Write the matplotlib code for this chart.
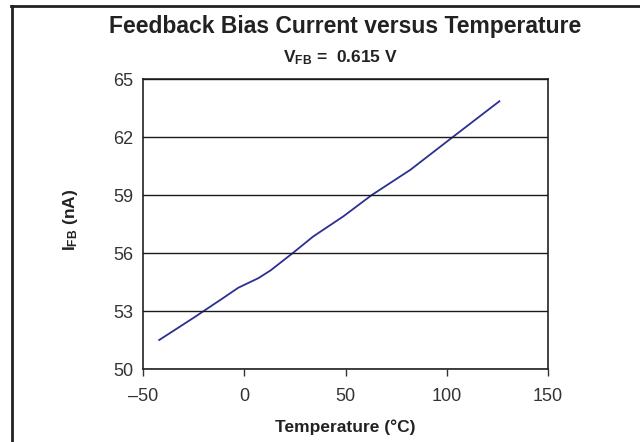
import matplotlib
matplotlib.use("Agg")
import matplotlib.pyplot as plt
from matplotlib.lines import Line2D

plt.rcParams['font.family'] = ['Liberation Sans', 'DejaVu Sans']
plt.rcParams['mathtext.fontset'] = 'custom'
plt.rcParams['mathtext.rm'] = 'Liberation Sans'
plt.rcParams['mathtext.bf'] = 'Liberation Sans:bold'
plt.rcParams['mathtext.it'] = 'Liberation Sans:italic'

temperature = [-42, -25, -10, -3, 7, 13, 24, 34, 49, 63, 82, 103, 126]
ifb_na = [51.5, 52.65, 53.7, 54.2, 54.7, 55.1, 56.0, 56.85, 57.9, 59.0, 60.3, 62.0, 63.85]
x_ticks = [-50, 0, 50, 100, 150]
x_tick_labels = ['\u201350', '0', '50', '100', '150']
y_ticks = [50, 53, 56, 59, 62, 65]

fig = plt.figure(figsize=(6.4, 4.42), dpi=100)
ax = fig.add_axes([143/640, 1 - 369/442, (548-143)/640, (369-79)/442])

ax.plot(temperature, ifb_na, color='#2b2f8f', lw=1.3)
ax.set_xlim(-50, 150)
ax.set_ylim(50, 65)
ax.set_xticks(x_ticks)
ax.set_xticklabels(x_tick_labels)
ax.set_yticks(y_ticks)
ax.yaxis.grid(True, color='#1a1a1a', lw=1.0)
ax.set_axisbelow(False)
ax.tick_params(axis='x', direction='out', length=5, width=1, labelsize=13, colors='#333333', pad=9)
ax.tick_params(axis='y', length=0, labelsize=13, colors='#333333', pad=7)
for s in ax.spines.values():
    s.set_color('#222222')
    s.set_linewidth(1.2)

ax.set_xlabel('Temperature (\u00b0C)', fontsize=12.5, fontweight='bold', color='#222222', labelpad=10)
fig.text(70.5/640, 1 - 220/442, r'$\mathbf{I_{FB}}$ (nA)', rotation=90, ha='center', va='center',
         fontsize=12.5, fontweight='bold', color='#222222')

fig.text(345/640, 1 - 27/442, 'Feedback Bias Current versus Temperature', ha='center', va='center',
         fontsize=16.5, fontweight='bold', color='#222222')
fig.text(340/640, 1 - 58/442, r'$\mathbf{V_{FB}}$ =  0.615 V', ha='center', va='center',
         fontsize=12.5, fontweight='bold', color='#222222')

# frame lines
fig.add_artist(Line2D([11/640, 1.0], [1 - 6/442, 1 - 6/442], transform=fig.transFigure, color='#222222', lw=2))
fig.add_artist(Line2D([12/640, 12/640], [1 - 6/442, 0], transform=fig.transFigure, color='#222222', lw=2))

fig.savefig('out.png', dpi=100)
